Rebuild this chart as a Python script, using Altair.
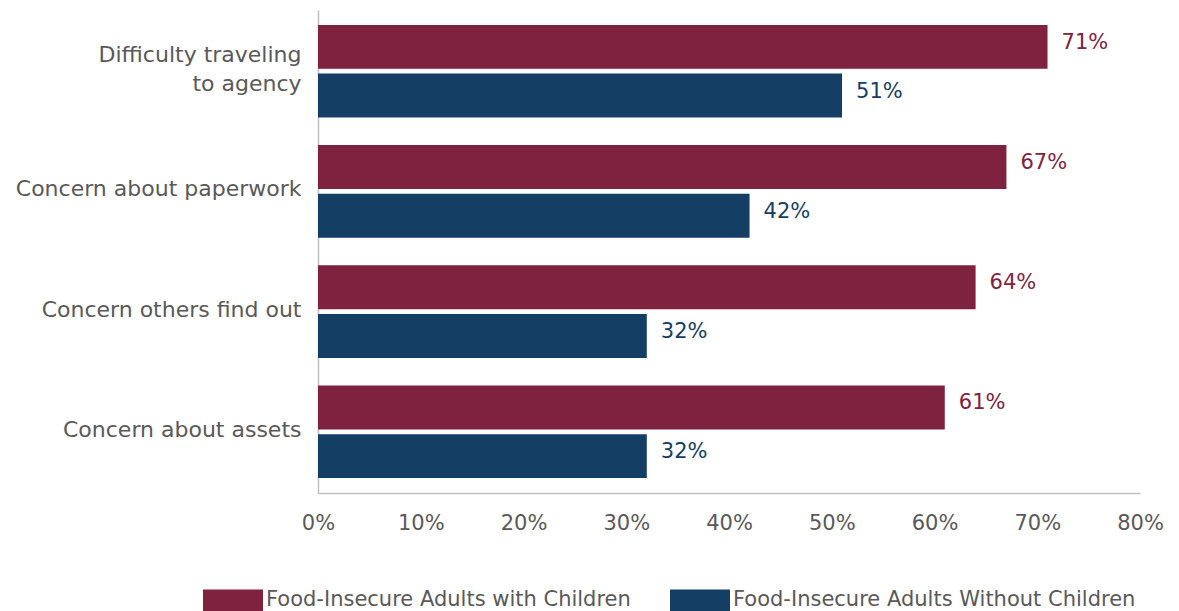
import altair as alt
import pandas as pd

categories = ["Difficulty traveling to agency", "Concern about paperwork",
              "Concern others find out", "Concern about assets"]
series = ["Food-Insecure Adults with Children", "Food-Insecure Adults Without Children"]
with_children = [71, 67, 64, 61]
without_children = [51, 42, 32, 32]
x_ticks = [0, 10, 20, 30, 40, 50, 60, 70, 80]
colors = ["#7E2240", "#143E64"]

rows = []
for c, a, b in zip(categories, with_children, without_children):
    rows.append({"category": c, "series": series[0], "value": a, "label": f"{a}%"})
    rows.append({"category": c, "series": series[1], "value": b, "label": f"{b}%"})
df = pd.DataFrame(rows)

FONT = "DejaVu Sans"
GRAY = "#595959"

y = alt.Y("category:N", sort=categories, title=None,
          scale=alt.Scale(paddingInner=0.23, paddingOuter=0.124),
          axis=alt.Axis(labelExpr="datum.label == 'Difficulty traveling to agency' ? ['Difficulty traveling ', 'to agency'] : datum.label",
                        labelFontSize=22, labelColor=GRAY, labelFont=FONT, labelPadding=17,
                        labelLineHeight=29,
                        labelOffset={"condition": {"test": "datum.value == 'Difficulty traveling to agency'", "value": -16}, "value": -2},
                        ticks=False, domainColor="#BFBFBF", domainWidth=1.5,
                        labelLimit=400))
y_off = alt.YOffset("series:N", sort=series, scale=alt.Scale(paddingInner=0.1, paddingOuter=0))
x = alt.X("value:Q", title=None,
          scale=alt.Scale(domain=[0, 80], nice=False),
          axis=alt.Axis(values=x_ticks, labelExpr="datum.value + '%'", grid=False, ticks=False,
                        labelFlush=False,
                        labelFontSize=21, labelColor=GRAY, labelFont=FONT, labelPadding=19,
                        domainColor="#BFBFBF", domainWidth=1.5))
color_scale = alt.Scale(domain=series, range=colors)

bars = alt.Chart(df).mark_bar().encode(
    x=x, y=y, yOffset=y_off,
    color=alt.Color("series:N", scale=color_scale, title=None,
                    legend=alt.Legend(orient="none", legendX=-115, legendY=560, direction="horizontal",
                                      columns=2, symbolType="M-1,-0.367L1,-0.367L1,0.367L-1,0.367Z",
                                      symbolSize=3600, symbolStrokeWidth=0, symbolOpacity=1,
                                      labelFontSize=21, labelFont=FONT, labelColor=GRAY,
                                      labelOffset=3, columnPadding=39, labelLimit=500)),
)
texts = alt.Chart(df).mark_text(align="left", baseline="middle", dx=14, dy=-4, fontSize=21, font=FONT).encode(
    x="value:Q", y=alt.Y("category:N", sort=categories), yOffset=y_off,
    text="label:N",
    color=alt.Color("series:N", scale=color_scale, legend=None),
)

chart = (bars + texts).properties(
    width=822, height=483,
    autosize=alt.AutoSizeParams(type="none"),
    padding={"left": 318, "top": 10, "right": 39, "bottom": 118},
).configure_view(stroke=None)

chart.save("out.html", embed_options={"renderer": "svg", "actions": False})
